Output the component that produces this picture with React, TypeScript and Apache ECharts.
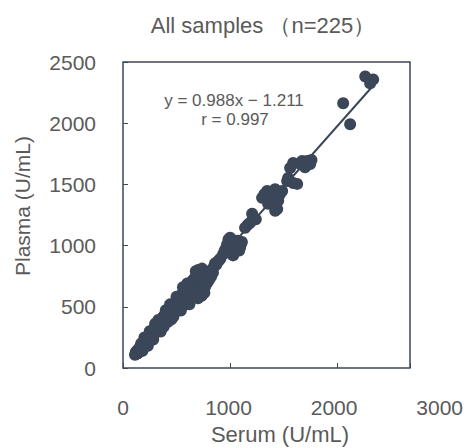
import React, { useEffect, useRef } from "react";
import * as echarts from "echarts";

const chartTitle = "All samples （n=225）";
const equationText = "y = 0.988x − 1.211";
const corrText = "r = 0.997";
const xName = "Serum (U/mL)";
const yName = "Plasma (U/mL)";

const xLabelTicks = [0, 1000, 2000, 3000];
const yLabelTicks = [0, 500, 1000, 1500, 2000, 2500];

// [serum, plasma]
const lowBand: [number, number][] = [
  [112,108],[120,130],[126,115],[131,142],[136,120],[140,135],[146,152],[150,128],[154,165],[158,145],
  [163,172],[167,150],[171,185],[175,162],[180,178],[184,196],[188,170],[193,205],[197,186],[201,218],
  [205,195],[210,228],[214,204],[219,236],[223,212],[227,250],[232,226],[236,262],[240,234],[245,255],
  [249,272],[254,240],[258,286],[263,258],[267,295],[272,266],[276,302],[281,275],[285,316],[290,282],
  [295,325],[299,300],[304,338],[309,292],[313,346],[318,318],[322,360],[327,308],[332,366],[336,330],
  [341,378],[346,325],[350,390],[355,342],[360,398],[364,352],[369,410],[374,360],[379,420],[384,372],
  [388,432],[393,380],[398,445],[403,392],[408,455],[413,400],[418,462],[423,410],[428,475],[433,420],
  [438,488],[443,425],[448,495],[453,438],[458,505],[463,445],[468,515],[474,455],[480,522],[486,462],
  [492,535],[498,470],
  [170,200],[182,140],[200,250],[232,182],[250,300],[282,232],[300,362],[352,298],[330,392],[380,338],
  [400,472],[452,398],[420,378],[470,418],[500,582],[440,520]
];
const midBand: [number, number][] = [
  [505,548],[510,470],[516,560],[521,495],[527,575],[532,488],[538,590],[543,515],[549,600],[555,505],
  [560,612],[566,530],[572,625],[577,520],[583,640],[589,550],[594,655],[600,540],[606,668],[612,570],
  [618,680],[624,560],[630,692],[636,590],[642,705],[648,580],[654,718],[660,610],[666,730],[672,600],
  [678,745],[684,625],[690,760],[696,615],[702,775],[708,640],[714,790],[720,632],[726,800],[732,655],
  [738,812],[744,650],[750,790],[756,675],[762,770],[768,668],[774,740],[780,690],[786,720],[792,705],
  [680,790],[700,800],[700,570],[735,590],[760,615],[560,660],[620,520],[600,690],[540,470],
  [800,760],[808,728],[816,790],[824,750],[832,805],[840,780],[850,830],[860,855],[872,845],[885,870],
  [898,880],[910,895]
];
const highClusters: [number, number][] = [
  [935,930],[950,960],[965,985],[972,1010],[985,1050],[1000,1065],[1012,940],[1028,920],[1040,1000],
  [1050,1040],[1060,975],[1075,1040],[1085,960],[1093,985],[1100,1010],[1110,1030],
  [1140,1146],[1165,1170],[1187,1187],[1206,1260],[1220,1230],[1240,1215],
  [1299,1390],[1320,1420],[1346,1447],[1355,1341],[1375,1400],[1402,1423],[1420,1460],[1421,1285],
  [1440,1300],[1449,1366],[1465,1420],[1486,1447],
  [1533,1528],[1542,1553],[1561,1634],[1589,1512],[1589,1675],[1626,1504],[1654,1667],[1673,1691],
  [1700,1640],[1720,1691],[1748,1667],[1760,1700],
  [2056,2163],[2121,1992],[2262,2382],[2308,2325],[2336,2358]
];
const samples = [...lowBand, ...midBand, ...highClusters];

const fitLine: [number, number][] = [[100, 97.6], [2370, 2340.4]];

const INK = "#3b4759";
const TEXT = "#5a5a5a";
const FONT = "'Liberation Sans', Arial, sans-serif";

export default function App() {
  const ref = useRef<HTMLDivElement>(null);
  useEffect(() => {
    if (!ref.current) return;
    const chart = echarts.init(ref.current, null, { renderer: "svg" });
    chart.setOption({
      animation: false,
      textStyle: { fontFamily: FONT },
      grid: [
        { left: 123, top: 62, width: 287, height: 306, show: true, borderColor: INK, borderWidth: 1.5, backgroundColor: "transparent" },
        { left: 123, top: 62, width: 318, height: 306, show: false }
      ],
      xAxis: [
        {
          type: "value", gridIndex: 0, min: 0, max: 2680, interval: 1000,
          axisLine: { show: false },
          axisTick: { show: true, inside: true, length: 5, lineStyle: { color: INK, width: 1 } },
          axisLabel: { show: false },
          splitLine: { show: false }
        },
        {
          type: "value", gridIndex: 1, min: 0, max: 3000, interval: 1000,
          axisLine: { show: false }, axisTick: { show: false }, splitLine: { show: false },
          axisLabel: {
            show: true, margin: 29, color: TEXT, fontSize: 21, fontFamily: FONT,
            formatter: (v: number) => (xLabelTicks.includes(v) ? String(v) : "")
          }
        }
      ],
      yAxis: [
        {
          type: "value", gridIndex: 0, min: 0, max: 2500, interval: 500,
          axisLine: { show: false },
          axisTick: { show: true, inside: true, length: 5, lineStyle: { color: INK, width: 1 } },
          splitLine: { show: false },
          axisLabel: {
            margin: 27, color: TEXT, fontSize: 21, fontFamily: FONT,
            formatter: (v: number) => (yLabelTicks.includes(v) ? String(v) : "")
          }
        },
        { type: "value", gridIndex: 1, min: 0, max: 2500, show: false }
      ],
      series: [
        {
          type: "line", xAxisIndex: 0, yAxisIndex: 0, data: fitLine, symbol: "none",
          lineStyle: { color: INK, width: 2 }, z: 1, silent: true
        },
        {
          type: "scatter", xAxisIndex: 0, yAxisIndex: 0, data: samples, symbolSize: 12,
          itemStyle: { color: INK, opacity: 1 }, z: 2
        }
      ],
      graphic: [
        { type: "text", x: 263, y: 25, style: { text: chartTitle, fill: TEXT, font: `22px ${FONT}`, align: "center", verticalAlign: "middle" } },
        { type: "text", x: 234, y: 100, style: { text: equationText, fill: TEXT, font: `17px ${FONT}`, align: "center", verticalAlign: "middle" } },
        { type: "text", x: 235, y: 119, style: { text: corrText, fill: TEXT, font: `17px ${FONT}`, align: "center", verticalAlign: "middle" } },
        { type: "text", x: 22, y: 206, rotation: Math.PI / 2, style: { text: yName, fill: TEXT, font: `21px ${FONT}`, align: "center", verticalAlign: "middle" } },
        { type: "text", x: 280, y: 434, style: { text: xName, fill: TEXT, font: `22px ${FONT}`, align: "center", verticalAlign: "middle" } }
      ]
    });
    return () => chart.dispose();
  }, []);
  return <div ref={ref} style={{ position: "fixed", left: 0, top: 0, width: 466, height: 448, background: "#fff" }} />;
}
